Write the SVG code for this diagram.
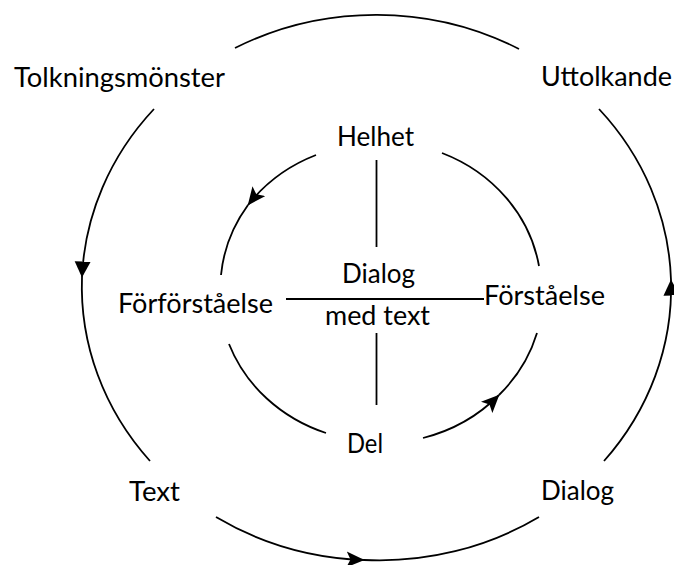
<svg xmlns="http://www.w3.org/2000/svg" width="674" height="565" viewBox="0 0 674 565">
  <style>
    .arc { fill: none; stroke: #000; stroke-width: 1.8; }
    .rule { fill: none; stroke: #000; stroke-width: 1.8; }
    .lbl { font-family: Lato, "Open Sans", "Liberation Sans", sans-serif; font-weight: 400; font-size: 26px; fill: #000; text-anchor: middle; }
  </style>
  <defs>
    <marker id="tri" markerUnits="userSpaceOnUse" markerWidth="17" markerHeight="17" refX="15.5" refY="8.5" orient="auto" viewBox="0 0 17 17">
      <path d="M0,0.5 L16,8.5 L0,16.5 z" fill="#000"/>
    </marker>
    <marker id="stealth" markerUnits="userSpaceOnUse" markerWidth="19" markerHeight="17" refX="17.5" refY="8.5" orient="auto" viewBox="0 0 19 17">
      <path d="M0,0.5 L18,8.5 L0,16.5 L4,8.5 z" fill="#000"/>
    </marker>
  </defs>

  <rect width="674" height="565" fill="#fff"/>

  <!-- connectors: outer cycle, inner cycle, central cross -->
  <g id="connectors">
    <!-- outer ring (counter-clockwise flow) -->
    <path class="arc" d="M519,49 A295,273 0 0 0 235,48"/>
    <path class="arc" d="M154,109 A295,273 0 0 0 82,277" marker-end="url(#tri)"/>
    <path class="arc" d="M82,277 A295,273 0 0 0 150,461"/>
    <path class="arc" d="M216,517 A295,273 0 0 0 364,560" marker-end="url(#stealth)"/>
    <path class="arc" d="M364,560 A295,273 0 0 0 539,517"/>
    <path class="arc" d="M604,461 A295,273 0 0 0 671,280" marker-end="url(#tri)"/>
    <path class="arc" d="M671,280 A295,273 0 0 0 599,109"/>

    <!-- inner ring -->
    <path class="arc" d="M316,155 A161,149 0 0 0 248,205" marker-end="url(#stealth)"/>
    <path class="arc" d="M248,205 A161,149 0 0 0 221,275"/>
    <path class="arc" d="M229,344 A161,149 0 0 0 326,433"/>
    <path class="arc" d="M423,438 A161,149 0 0 0 499,395" marker-end="url(#stealth)"/>
    <path class="arc" d="M499,395 A161,149 0 0 0 537,333"/>
    <path class="arc" d="M539,266 A161,149 0 0 0 442,153"/>

    <!-- central cross -->
    <line class="rule" x1="376.5" y1="160" x2="376.5" y2="247"/>
    <line class="rule" x1="376.5" y1="333" x2="376.5" y2="405"/>
    <line class="rule" x1="286" y1="299" x2="484" y2="299"/>
  </g>

  <g id="tolkningsmonster"><text class="lbl" x="119.5" y="87" textLength="211" lengthAdjust="spacingAndGlyphs">Tolkningsmönster</text></g>
  <g id="uttolkande"><text class="lbl" x="606.5" y="86" textLength="131" lengthAdjust="spacingAndGlyphs">Uttolkande</text></g>
  <g id="helhet"><text class="lbl" x="375.5" y="146" textLength="77" lengthAdjust="spacingAndGlyphs">Helhet</text></g>
  <g id="dialog-med-text">
    <text class="lbl" x="378.5" y="283" textLength="73" lengthAdjust="spacingAndGlyphs">Dialog</text>
    <text class="lbl" x="377.5" y="325" textLength="105" lengthAdjust="spacingAndGlyphs">med text</text>
  </g>
  <g id="forforstaelse"><text class="lbl" x="195.5" y="313" textLength="155" lengthAdjust="spacingAndGlyphs">Förförståelse</text></g>
  <g id="forstaelse"><text class="lbl" x="544.5" y="305" textLength="121" lengthAdjust="spacingAndGlyphs">Förståelse</text></g>
  <g id="del"><text class="lbl" x="365" y="453" textLength="36" lengthAdjust="spacingAndGlyphs">Del</text></g>
  <g id="text"><text class="lbl" x="154.5" y="501" textLength="51" lengthAdjust="spacingAndGlyphs">Text</text></g>
  <g id="dialog"><text class="lbl" x="577.5" y="500" textLength="73" lengthAdjust="spacingAndGlyphs">Dialog</text></g>
</svg>
